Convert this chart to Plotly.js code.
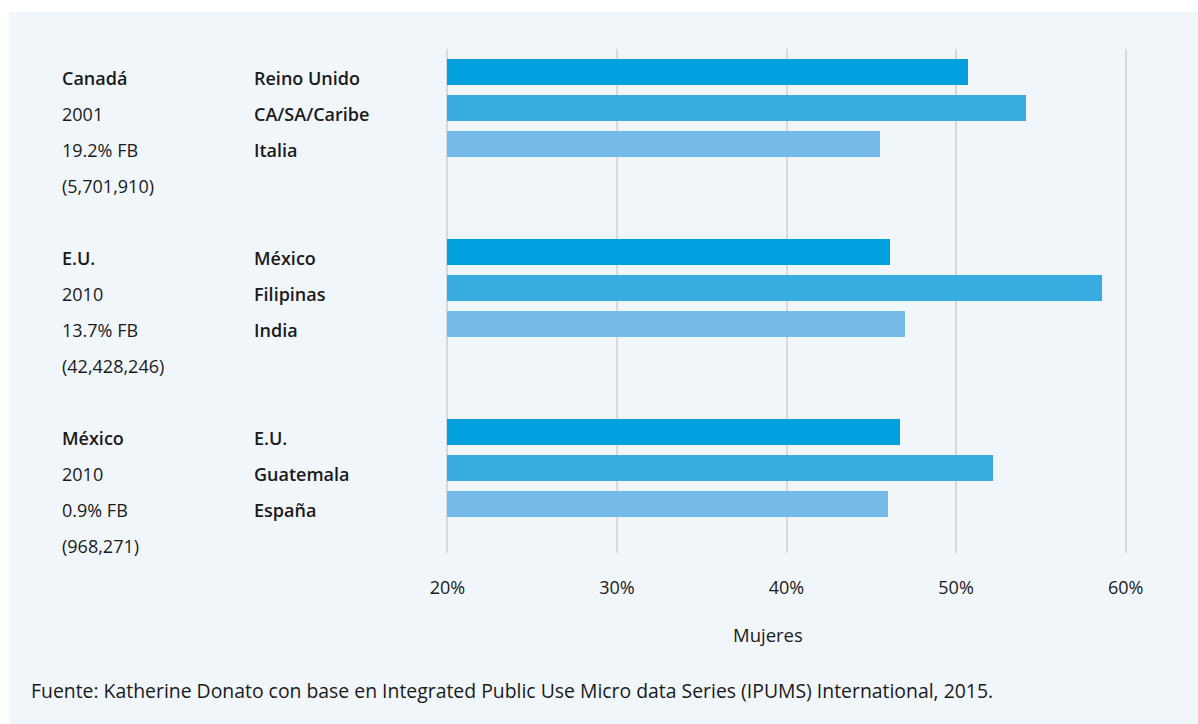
<!DOCTYPE html>
<html>
<head>
<meta charset="utf-8">
<script src="https://cdn.plot.ly/plotly-3.0.1.min.js"></script>
<style>html,body{margin:0;padding:0;background:#fff;}#chart{width:1198px;height:724px;}</style>
</head>
<body>
<div id="chart"></div>
<script>
// ---- data ----
const groups = ["Canadá", "E.U.", "México"];
const groupInfo = [
  ["2001", "19.2% FB", "(5,701,910)"],
  ["2010", "13.7% FB", "(42,428,246)"],
  ["2010", "0.9% FB", "(968,271)"]
];
const origins = [
  ["Reino Unido", "CA/SA/Caribe", "Italia"],
  ["México", "Filipinas", "India"],
  ["E.U.", "Guatemala", "España"]
];
const womenPct = [
  [50.7, 54.1, 45.5],
  [46.1, 58.6, 47.0],
  [46.7, 52.2, 46.0]
];
const tickVals = [20, 30, 40, 50, 60];
const tickText = ["20%", "30%", "40%", "50%", "60%"];
const colors = ["#009fdd", "#38abe1", "#74bbe8"];
const axisTitle = "Mujeres";
const source = "Fuente: Katherine Donato con base en Integrated Public Use Micro data Series (IPUMS) International, 2015.";
const AXIS_START = 20;

// ---- layout geometry ----
const W = 1198, H = 724;
const M = {l: 444, r: 69, t: 49, b: 171};
const PW = W - M.l - M.r, PH = H - M.t - M.b;
const px2x = px => (px - M.l) / PW;
const py2y = py => (H - M.b - py) / PH;
const ROWS_PER_GROUP = 5;

const traces = [0, 1, 2].map(k => ({
  type: "bar",
  orientation: "h",
  base: AXIS_START,
  x: womenPct.map(g => g[k] - AXIS_START),
  y: womenPct.map((g, gi) => gi * ROWS_PER_GROUP + k),
  customdata: womenPct.map(g => g[k]),
  hovertemplate: "%{customdata}%<extra></extra>",
  width: 0.72,
  marker: {color: colors[k], line: {width: 0}},
  showlegend: false
}));

const font = "'Open Sans', 'Noto Sans', sans-serif";
const annotations = [];
groups.forEach((g, gi) => {
  const r0 = gi * ROWS_PER_GROUP;
  annotations.push({xref: "paper", yref: "y", x: px2x(60), y: r0, xanchor: "left", yanchor: "middle",
    text: g, showarrow: false, yshift: -6, font: {family: font, size: 18, color: "#1a1a1a", weight: 600}});
  groupInfo[gi].forEach((t, i) => annotations.push({xref: "paper", yref: "y", x: px2x(60), y: r0 + i + 1,
    xanchor: "left", yanchor: "middle", text: t, showarrow: false, yshift: -6,
    font: {family: font, size: 18, color: "#1a1a1a"}}));
  origins[gi].forEach((t, i) => annotations.push({xref: "paper", yref: "y", x: px2x(252), y: r0 + i,
    xanchor: "left", yanchor: "middle", text: t, showarrow: false, yshift: -6,
    font: {family: font, size: 18, color: "#1a1a1a", weight: 600}}));
});
annotations.push({xref: "paper", yref: "paper", x: px2x(768), y: py2y(634), xanchor: "center", yanchor: "middle",
  text: axisTitle, showarrow: false, font: {family: font, size: 18.5, color: "#1a1a1a"}});
annotations.push({xref: "paper", yref: "paper", x: px2x(29), y: py2y(690), xanchor: "left", yanchor: "middle",
  text: source, showarrow: false, font: {family: font, size: 19.4, color: "#1a1a1a"}});

const layout = {
  width: W, height: H,
  margin: M,
  paper_bgcolor: "#ffffff",
  plot_bgcolor: "rgba(0,0,0,0)",
  bargap: 0,
  xaxis: {
    range: [19.8, 60.2],
    tickvals: tickVals, ticktext: tickText,
    showgrid: true, gridcolor: "#d9d9d9", gridwidth: 2,
    zeroline: false, showline: false,
    ticks: "", ticklabelstandoff: 22,
    tickfont: {family: font, size: 18, color: "#1a1a1a"},
    fixedrange: true
  },
  yaxis: {
    range: [13.361, -0.639],
    showgrid: false, zeroline: false, showticklabels: false, showline: false, ticks: "",
    fixedrange: true
  },
  shapes: [{type: "rect", xref: "paper", yref: "paper", layer: "below",
    x0: px2x(9), x1: px2x(1200), y0: py2y(12), y1: py2y(726),
    fillcolor: "#f1f6fb", line: {width: 0}}],
  annotations: annotations
};

Plotly.newPlot("chart", traces, layout, {displayModeBar: false, staticPlot: true});
</script>
</body>
</html>
